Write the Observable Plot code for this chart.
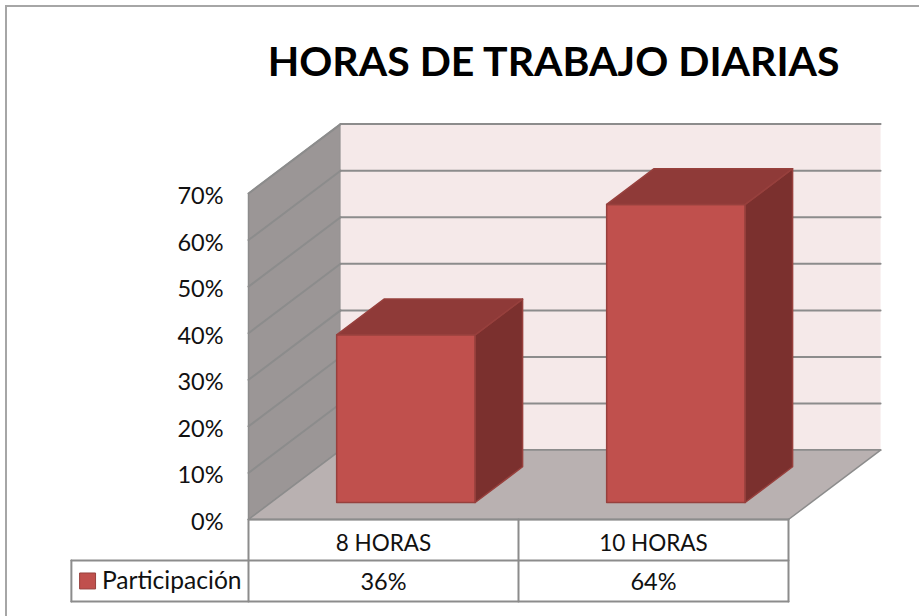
<!DOCTYPE html>
<html><head><meta charset="utf-8">
<style>
html,body{margin:0;padding:0;background:#fff;}
#frame{position:absolute;left:5px;top:5px;width:930px;height:630px;border:2px solid #a6a6a6;box-sizing:border-box;pointer-events:none;}
#clip{position:absolute;left:0;top:0;width:919px;height:616px;overflow:hidden;}
#chart{position:absolute;left:0;top:0;}
svg{overflow:visible;background:transparent!important;}
</style>
<script src="https://cdn.jsdelivr.net/npm/d3@7"></script>
<script src="https://cdn.jsdelivr.net/npm/@observablehq/plot@0.6"></script>
</head><body>
<div id="clip"><div id="frame"></div><div id="chart"></div></div>
<script>
const title = "HORAS DE TRABAJO DIARIAS";
const categories = ["8 HORAS", "10 HORAS"];
const participacion = [36, 64];
const seriesName = "Participación";
const yTicks = [0, 10, 20, 30, 40, 50, 60, 70];

const font = "Lato, Carlito, Calibri, sans-serif";
const wallColor = "#9b9696", backColor = "#f5e9e9", floorColor = "#b9b1b1";
const frontColor = "#c0504d", topColor = "#8f3a38", sideColor = "#7b302e";
const edgeColor = "#8c8c8c", barEdge = "#97403d";

// Oblique 3D projection expressed in data units: depth d (0 front … 1 back).
const DX = 0.341, DY = 14.9, Y_MAX = 70, N = categories.length;
const P = (x, v, d = 0) => ({px: x + d * DX, py: v + d * DY});
const closed = pts => [...pts, pts[0]];
const face = (pts, fill, stroke = fill, strokeWidth = 1) =>
  Plot.line(closed(pts), {x: "px", y: "py", fill, stroke, strokeWidth, strokeLinejoin: "round"});

// Bar footprint in depth and width.
const bw = 0.513, d0 = 0.245, d1 = 0.76;
const bars = participacion.flatMap((v, i) => {
  const x0 = i + 0.243, x1 = x0 + bw;
  return [
    face([P(x0, 0, d0), P(x1, 0, d0), P(x1, v, d0), P(x0, v, d0)], frontColor, barEdge, 1.5),
    face([P(x1, 0, d0), P(x1, 0, d1), P(x1, v, d1), P(x1, v, d0)], sideColor, barEdge, 1.5),
    face([P(x0, v, d0), P(x1, v, d0), P(x1, v, d1), P(x0, v, d1)], topColor, barEdge, 1.5)
  ];
});

const wallGrid = yTicks.filter(t => t > 0).map(t =>
  Plot.line([P(0, t, 0), P(0, t, 1)], {x: "px", y: "py", stroke: edgeColor, strokeWidth: 2}));
const backGrid = yTicks.map(t =>
  Plot.line([P(0, t, 1), P(N, t, 1)], {x: "px", y: "py", stroke: edgeColor, strokeWidth: 2}));

// Data table under the axis, positioned in the same data units.
const rowH = 8.8, tableLeft = -0.656;
const rowLine = (v, x0) => Plot.line([P(x0, v), P(N, v)], {x: "px", y: "py", stroke: edgeColor, strokeWidth: 2});
const colLine = (x, v0, v1) => Plot.line([P(x, v0), P(x, v1)], {x: "px", y: "py", stroke: edgeColor, strokeWidth: 2});
const rows = categories.map((c, i) => ({c, v: participacion[i], x: i + 0.5}));

const plot = Plot.plot({
  width: 919, height: 616,
  marginLeft: 248, marginRight: 131, marginTop: 193, marginBottom: 97,
  x: {domain: [0, N], axis: null},
  y: {domain: [0, Y_MAX], axis: null},
  style: {fontFamily: font, background: "transparent"},
  marks: [
    // walls and floor
    face([P(0, 0, 0), P(0, 0, 1), P(0, Y_MAX, 1), P(0, Y_MAX, 0)], wallColor, edgeColor, 1.5),
    face([P(0, 0, 1), P(N, 0, 1), P(N, Y_MAX, 1), P(0, Y_MAX, 1)], backColor, backColor, 0),
    ...backGrid,
    ...wallGrid,
    face([P(0, 0, 0), P(N, 0, 0), P(N, 0, 1), P(0, 0, 1)], floorColor, edgeColor, 1.5),
    ...bars,
    // y axis
    Plot.axisY(yTicks, {anchor: "left", tickSize: 0, tickPadding: 25, label: null, dy: 3,
      tickFormat: d => d + "%", fontSize: 23.5, fill: "#111", fontFamily: font}),
    // table
    rowLine(0, 0),
    rowLine(-rowH, tableLeft),
    rowLine(-2 * rowH, tableLeft),
    colLine(0, 0, -2 * rowH), colLine(1, 0, -2 * rowH), colLine(2, 0, -2 * rowH),
    colLine(tableLeft, -rowH, -2 * rowH),
    Plot.text(rows, {x: "x", y: () => -rowH / 2 - 0.9, text: "c", fontSize: 22.5, fill: "#111", fontFamily: font}),
    Plot.text(rows, {x: "x", y: () => -1.5 * rowH - 0.3, text: d => d.v + "%", fontSize: 23.5, fill: "#111", fontFamily: font}),
    Plot.dot([seriesName], {x: () => tableLeft + 0.06, y: () => -1.5 * rowH, symbol: "square", r: 9,
      fill: frontColor, stroke: barEdge, strokeWidth: 1}),
    Plot.text([seriesName], {x: () => tableLeft + 0.113, y: () => -1.5 * rowH - 0.1, text: d => d, textAnchor: "start",
      fontSize: 24.6, fill: "#111", fontFamily: font}),
    // title
    Plot.text([title], {x: () => 1.13, y: () => 98, text: d => d, fontSize: 41, fontWeight: 700, fill: "#000", fontFamily: font})
  ]
});
document.getElementById("chart").appendChild(plot);
</script>
</body></html>
